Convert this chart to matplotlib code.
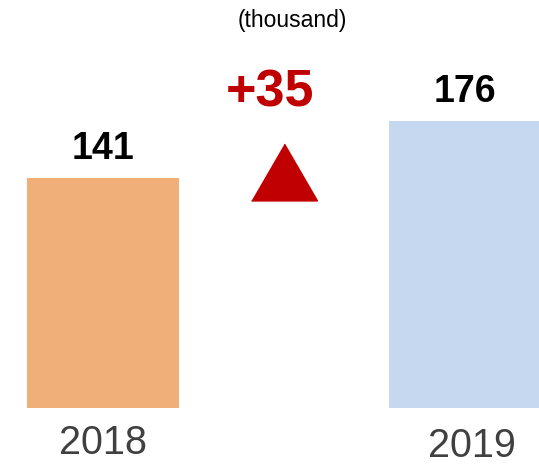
import matplotlib
matplotlib.use("Agg")
import matplotlib.pyplot as plt

years = ["2018", "2019"]
values = [141, 176]
bar_colors = ["#F0AF78", "#C5D8F0"]
unit_label = "(thousand)"

plt.rcParams['font.family'] = ['Liberation Sans', 'DejaVu Sans']

fig = plt.figure(figsize=(5.39, 4.66), dpi=100)
ax = fig.add_axes([0, 58/466, 1, 408/466])
ax.set_xlim(-0.284, 1.203)
ax.set_ylim(0, 408/1.6305)
ax.axis('off')

x = [0, 1]
ax.bar(x, values, width=0.42, color=bar_colors)

# value labels above bars
for xi, v in zip(x, values):
	ax.text(xi, v + 18, str(v), ha='center', va='center',
		fontsize=27, fontweight='bold', color='black')

# year labels (second one sits a bit lower)
ax.text(0, -21.5, years[0], ha='center', va='center', fontsize=28.5,
	color='#404040', clip_on=False)
ax.text(1.018, -23.0, years[1], ha='center', va='center', fontsize=28.5,
	color='#404040', clip_on=False)

# change indicator
diff = values[1] - values[0]
ax.text(0.46, 193.0, "+%d" % diff, ha='center', va='center',
	fontsize=37.5, fontweight='bold', color='#C00000')
tri = [(-0.58, -0.5), (0.58, -0.5), (0, 0.5)]
ax.plot([0.499], [144.8], marker=tri, markersize=47.5, color='#C00000',
	linestyle='none', clip_on=False)

fig.text(292/539, 1 - 20/466, unit_label, ha='center', va='center',
	fontsize=16.5, color='black')

fig.savefig("out.png", dpi=100)
